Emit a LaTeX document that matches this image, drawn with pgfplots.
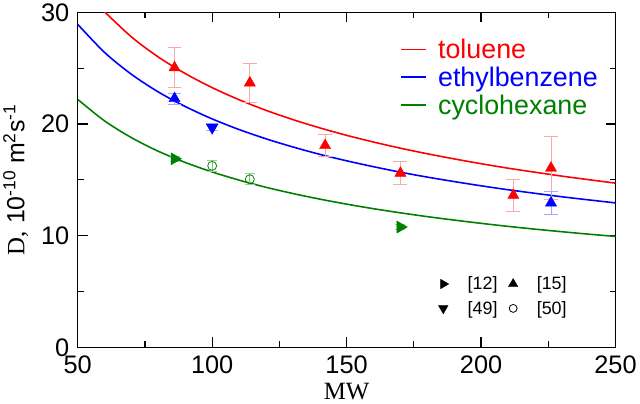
\documentclass[border=0pt]{standalone}
\usepackage{fontspec}
\setmainfont{Liberation Sans}
\newfontfamily\seriffont{Liberation Serif}
\usepackage{pgfplots}
\pgfplotsset{compat=1.18}
\definecolor{myred}{RGB}{255,0,0}
\definecolor{myblue}{RGB}{0,0,255}
\definecolor{mygreen}{RGB}{0,128,0}
\begin{document}
\begin{tikzpicture}
\begin{axis}[
  scale only axis, width=541pt, height=337pt,
  xmin=50, xmax=250, ymin=0, ymax=30,
  xtick={50,100,150,200,250}, ytick={0,10,20,30},
  xticklabels={50,100,150,200,250}, yticklabels={0,10,20,30},
  minor x tick num=1, minor y tick num=1,
  major tick length=10pt, minor tick length=6pt,
  axis line style={line width=1.5pt},
  tick style={black, line width=1.2pt},
  ticklabel style={font=\fontsize{25.5}{26}\selectfont},
  xticklabel style={yshift=-5pt},
  yticklabel style={xshift=-5pt},
  xlabel={\seriffont MW},
  ylabel={{\seriffont D,} 10\textsuperscript{-10} m\textsuperscript{2}s\textsuperscript{-1}},
  label style={font=\fontsize{25}{25}\selectfont},
  xlabel style={yshift=-3pt},
  ylabel style={yshift=6pt},
  legend style={at={(axis description cs:0.60,0.927)}, anchor=north west, draw=none, fill=none,
    font=\fontsize{27}{30}\selectfont, row sep=3pt, inner sep=0pt},
  legend cell align=left,
  legend image code/.code={\draw[#1] (0pt,0pt) -- (25pt,0pt);},
]
\addlegendimage{myred, line width=1.7pt}
\addlegendentry{\hspace{9pt}\textcolor{myred}{toluene}}
\addlegendimage{myblue, line width=1.7pt}
\addlegendentry{\hspace{9pt}\textcolor{myblue}{ethylbenzene}}
\addlegendimage{mygreen, line width=1.7pt}
\addlegendentry{\hspace{9pt}\textcolor{mygreen}{cyclohexane}}
\addplot[forget plot, myred, line width=1.6pt, smooth] coordinates {
(59,30.27) (70,27.79) (80,25.99) (90,24.51) (100,23.25) (110,22.17) (120,21.22) (130,20.39)
(140,19.65) (150,18.98) (160,18.38) (170,17.83) (180,17.33) (190,16.87) (200,16.44)
(210,16.04) (220,15.68) (230,15.33) (240,15.01) (250,14.70)};
\addplot[forget plot, myblue, line width=1.6pt, smooth] coordinates {
(50,28.92) (60,26.40) (70,24.44) (80,22.86) (90,21.56) (100,20.45) (110,19.50) (120,18.67)
(130,17.94) (140,17.28) (150,16.70) (160,16.17) (170,15.68) (180,15.24) (190,14.84)
(200,14.46) (210,14.11) (220,13.79) (230,13.48) (240,13.20) (250,12.93)};
\addplot[forget plot, mygreen, line width=1.6pt, smooth] coordinates {
(50,22.20) (60,20.27) (70,18.77) (80,17.55) (90,16.55) (100,15.70) (110,14.97) (120,14.33)
(130,13.77) (140,13.27) (150,12.82) (160,12.41) (170,12.04) (180,11.70) (190,11.39)
(200,11.10) (210,10.83) (220,10.58) (230,10.35) (240,10.13) (250,9.93)};
% red [15]
\addplot[forget plot, only marks, mark=triangle*, mark size=6.5pt, color=myred,
  error bars/.cd, y dir=both, y explicit,
  error bar style={color=myred!35, line width=0.8pt},
  error mark options={rotate=90, mark size=7pt, color=myred!35, line width=0.8pt}]
coordinates {
(86,25.04) +- (0,1.8)
(114,23.68) +- (0,1.75)
(142,18.07) +- (0,1.0)
(170,15.60) +- (0,1.05)
(212,13.61) +- (0,1.45)
(226,16.05) +- (0,2.8)};
% blue [15]
\addplot[forget plot, only marks, mark=triangle*, mark size=6.5pt, color=myblue,
  error bars/.cd, y dir=both, y explicit,
  error bar style={color=myblue!35, line width=0.8pt},
  error mark options={rotate=90, mark size=7pt, color=myblue!35, line width=0.8pt}]
coordinates {
(86,22.28) +- (0,0.5)
(226,12.93) +- (0,1.0)};
% blue [49]
\addplot[forget plot, only marks, mark=triangle*, mark size=7pt, color=myblue, mark options={rotate=180},
  error bars/.cd, y dir=both, y explicit,
  error bar style={color=myblue!35, line width=0.8pt},
  error mark options={rotate=90, mark size=6pt, color=myblue!35, line width=0.8pt}]
coordinates {
(100,19.70) +- (0,0.3)};
% green [12]
\addplot[forget plot, only marks, mark=triangle*, mark size=7pt, color=mygreen, mark options={rotate=-90},
  error bars/.cd, y dir=both, y explicit,
  error bar style={color=mygreen!35, line width=0.8pt},
  error mark options={rotate=90, mark size=5pt, color=mygreen!35, line width=0.8pt}]
coordinates {
(86,16.88) +- (0,0.2)
(170,10.77) +- (0,0.2)};
% green [50]
\addplot[forget plot, only marks, mark=o, mark size=4.5pt, color=mygreen, mark options={line width=0.8pt},
  error bars/.cd, y dir=both, y explicit,
  error bar style={color=mygreen!50, line width=0.8pt},
  error mark options={rotate=90, mark size=5pt, color=mygreen!40, line width=0.8pt}]
coordinates {
(100,16.25) +- (0,0.5)
(114,15.05) +- (0,0.5)};
\end{axis}
\begin{axis}[
  scale only axis, width=541pt, height=337pt,
  xmin=50, xmax=250, ymin=0, ymax=30,
  hide axis,
  legend columns=2,
  legend style={at={(axis description cs:0.665,0.223)}, anchor=north west, draw=none, fill=none,
    font=\fontsize{18}{22}\selectfont, column sep=9pt, row sep=6pt},
  legend cell align=left,
]
\addlegendimage{only marks, mark=triangle*, mark size=5.5pt, black, mark options={rotate=-90}}
\addlegendentry{\hspace{8pt}[12]}
\addlegendimage{only marks, mark=triangle*, mark size=5.5pt, black}
\addlegendentry{\hspace{8pt}[15]}
\addlegendimage{only marks, mark=triangle*, mark size=5.5pt, black, mark options={rotate=180}}
\addlegendentry{\hspace{8pt}[49]}
\addlegendimage{only marks, mark=o, mark size=4pt, black, mark options={line width=0.8pt}}
\addlegendentry{\hspace{8pt}[50]}
\end{axis}
\end{tikzpicture}
\end{document}
